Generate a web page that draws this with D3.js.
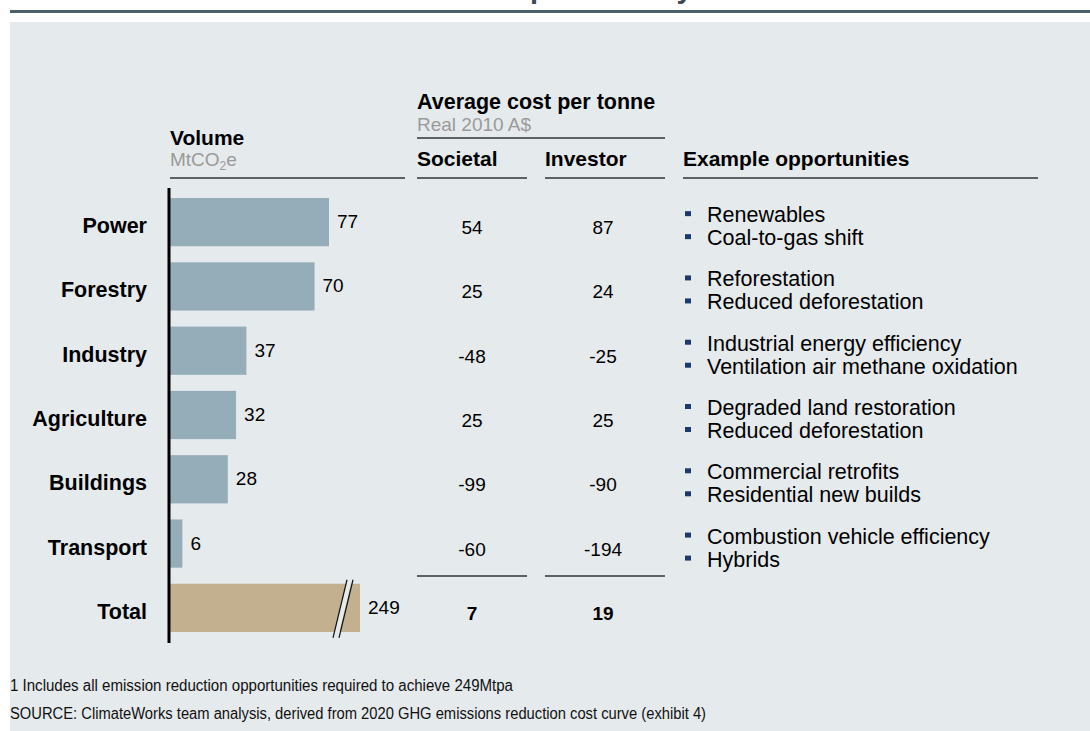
<!DOCTYPE html>
<html>
<head>
<meta charset="utf-8">
<script src="https://cdn.jsdelivr.net/npm/d3@7"></script>
<style>
  body { margin: 0; background: #fff; }
  svg { display: block; font-family: "Liberation Sans", Arial, sans-serif; }
</style>
</head>
<body>
<div id="chart"></div>
<script>
var sectors = ['Power', 'Forestry', 'Industry', 'Agriculture', 'Buildings', 'Transport', 'Total'];
var volume = [77, 70, 37, 32, 28, 6, 249];
var societal = [54, 25, -48, 25, -99, -60, 7];
var investor = [87, 24, -25, 25, -90, -194, 19];
var opportunities = [
  ['Renewables', 'Coal-to-gas shift'],
  ['Reforestation', 'Reduced deforestation'],
  ['Industrial energy efficiency', 'Ventilation air methane oxidation'],
  ['Degraded land restoration', 'Reduced deforestation'],
  ['Commercial retrofits', 'Residential new builds'],
  ['Combustion vehicle efficiency', 'Hybrids'],
  []
];
var footnotes = [
  '1 Includes all emission reduction opportunities required to achieve 249Mtpa',
  'SOURCE: ClimateWorks team analysis, derived from 2020 GHG emissions reduction cost curve (exhibit 4)'
];

var W = 1090, H = 731;
var svg = d3.select('#chart').append('svg').attr('width', W).attr('height', H);

// title, mostly cropped off the top
svg.append('text')
  .attr('x', 372).attr('y', -2)
  .attr('font-size', 29).attr('font-weight', 'bold')
  .attr('fill', '#3b4a55')
  .text('Abatement potential by sector');

svg.append('rect').attr('x', 10).attr('y', 10).attr('width', W - 10).attr('height', 3).attr('fill', '#4d5f6b');
svg.append('rect').attr('x', 10).attr('y', 22).attr('width', W - 10).attr('height', H - 22).attr('fill', '#e5eaed');

var y = d3.scaleBand().domain(sectors).range([190, 640]).paddingInner(0.25).paddingOuter(0.125);
var x = d3.scaleLinear().domain([0, 77]).range([170, 329]);
var xTotal = 360; // total bar is broken, drawn to a fixed length

var socX = 472, invX = 603;

// headers
var hdr = svg.append('g').attr('fill', '#000');
hdr.append('text').attr('x', 170).attr('y', 145).attr('font-size', 21).attr('font-weight', 'bold').text('Volume');
var mt = hdr.append('text').attr('x', 170).attr('y', 166).attr('font-size', 19).attr('fill', '#9a9a9a');
mt.append('tspan').text('MtCO');
mt.append('tspan').attr('font-size', 12).attr('dy', 4).text('2');
mt.append('tspan').attr('dy', -4).text('e');

hdr.append('text').attr('x', 417).attr('y', 109).attr('font-size', 21.5).attr('font-weight', 'bold').text('Average cost per tonne');
hdr.append('text').attr('x', 417).attr('y', 131).attr('font-size', 19).attr('fill', '#9a9a9a').text('Real 2010 A$');
hdr.append('text').attr('x', 417).attr('y', 166).attr('font-size', 21).attr('font-weight', 'bold').text('Societal');
hdr.append('text').attr('x', 545).attr('y', 166).attr('font-size', 21).attr('font-weight', 'bold').text('Investor');
hdr.append('text').attr('x', 683).attr('y', 166).attr('font-size', 21).attr('font-weight', 'bold').text('Example opportunities');

var rules = [
  [417, 665, 138], [170, 405, 178], [417, 527, 178], [545, 665, 178], [683, 1038, 178],
  [417, 527, 576], [545, 665, 576]
];
svg.selectAll('line.rule').data(rules).enter().append('line')
  .attr('class', 'rule')
  .attr('x1', function(d) { return d[0]; })
  .attr('x2', function(d) { return d[1]; })
  .attr('y1', function(d) { return d[2]; })
  .attr('y2', function(d) { return d[2]; })
  .attr('stroke', '#333').attr('stroke-width', 1.3);

// bars
var rows = sectors.map(function(s, i) {
  return { name: s, v: volume[i], soc: societal[i], inv: investor[i], opp: opportunities[i], total: s === 'Total' };
});

svg.selectAll('rect.bar').data(rows).enter().append('rect')
  .attr('class', 'bar')
  .attr('x', 170)
  .attr('y', function(d) { return y(d.name); })
  .attr('width', function(d) { return (d.total ? xTotal : x(d.v)) - 170; })
  .attr('height', y.bandwidth())
  .attr('fill', function(d) { return d.total ? '#c2b08f' : '#95adb8'; });

// break marks on total bar
var ty = y('Total'), tb = y.bandwidth();
svg.append('polygon')
  .attr('points', [[333, ty + tb + 6], [347, ty - 4], [352, ty - 4], [338, ty + tb + 6]].join(' '))
  .attr('fill', '#e5eaed');
svg.append('line').attr('x1', 333).attr('y1', ty + tb + 6).attr('x2', 347).attr('y2', ty - 4).attr('stroke', '#111').attr('stroke-width', 1.2);
svg.append('line').attr('x1', 339).attr('y1', ty + tb + 6).attr('x2', 353).attr('y2', ty - 4).attr('stroke', '#111').attr('stroke-width', 1.2);

// axis line
svg.append('line').attr('x1', 169).attr('x2', 169).attr('y1', 188).attr('y2', 643)
  .attr('stroke', '#000').attr('stroke-width', 3);

// value labels
svg.selectAll('text.val').data(rows).enter().append('text')
  .attr('class', 'val')
  .attr('x', function(d) { return (d.total ? xTotal : x(d.v)) + 8; })
  .attr('y', function(d) { return y(d.name) + y.bandwidth() / 2 + 6; })
  .attr('font-size', 19)
  .text(function(d) { return d.v; });

// category labels
svg.selectAll('text.cat').data(rows).enter().append('text')
  .attr('class', 'cat')
  .attr('x', 147)
  .attr('y', function(d) { return y(d.name) + y.bandwidth() / 2 + 11; })
  .attr('text-anchor', 'end')
  .attr('font-size', 21.5).attr('font-weight', 'bold')
  .text(function(d) { return d.name; });

// cost columns
svg.selectAll('text.soc').data(rows).enter().append('text')
  .attr('class', 'soc')
  .attr('x', socX)
  .attr('y', function(d) { return y(d.name) + y.bandwidth() / 2 + 12; })
  .attr('text-anchor', 'middle')
  .attr('font-size', 19)
  .attr('font-weight', function(d) { return d.total ? 'bold' : 'normal'; })
  .text(function(d) { return d.soc; });

svg.selectAll('text.inv').data(rows).enter().append('text')
  .attr('class', 'inv')
  .attr('x', invX)
  .attr('y', function(d) { return y(d.name) + y.bandwidth() / 2 + 12; })
  .attr('text-anchor', 'middle')
  .attr('font-size', 19)
  .attr('font-weight', function(d) { return d.total ? 'bold' : 'normal'; })
  .text(function(d) { return d.inv; });

// example opportunities
var opp = svg.selectAll('g.opp').data(rows).enter().append('g')
  .attr('class', 'opp')
  .attr('transform', function(d) { return 'translate(0,' + (y(d.name) + y.bandwidth() / 2) + ')'; });
opp.selectAll('rect').data(function(d) { return d.opp; }).enter().append('rect')
  .attr('x', 685).attr('y', function(d, i) { return -11 + i * 23; })
  .attr('width', 6).attr('height', 5).attr('fill', '#1a3a6e');
opp.selectAll('text').data(function(d) { return d.opp; }).enter().append('text')
  .attr('x', 707).attr('y', function(d, i) { return i * 23; })
  .attr('font-size', 21.5)
  .text(function(d) { return d; });

// footnotes (condensed face in the original)
var footLen = [503, 696];
svg.append('g').attr('font-size', 16).attr('fill', '#111')
  .selectAll('text').data(footnotes).enter().append('text')
  .attr('x', 10).attr('y', function(d, i) { return 691 + i * 28; })
  .attr('textLength', function(d, i) { return footLen[i]; })
  .attr('lengthAdjust', 'spacingAndGlyphs')
  .text(function(d) { return d; });
</script>
</body>
</html>
